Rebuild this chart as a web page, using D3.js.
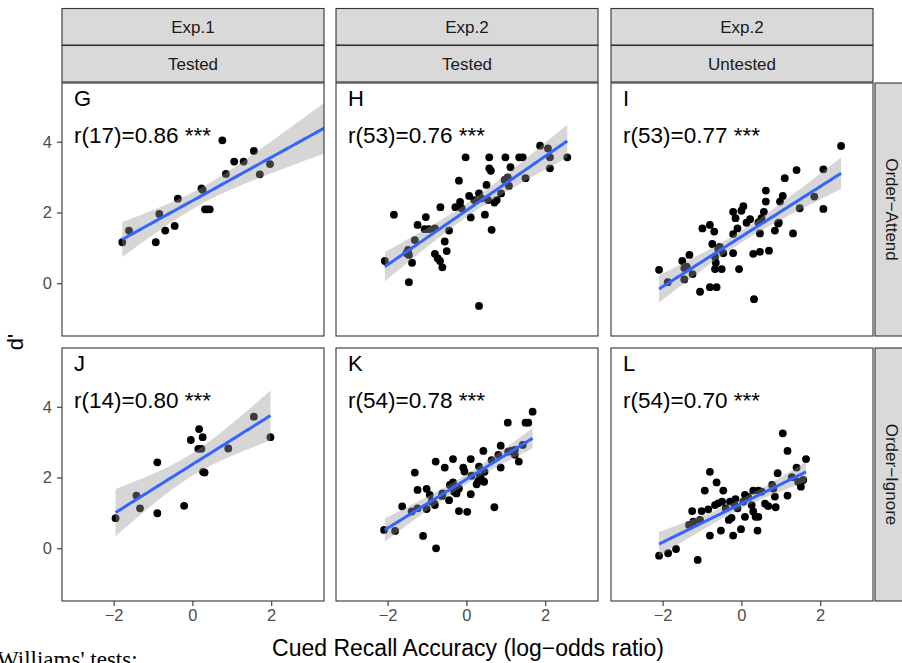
<!DOCTYPE html>
<html>
<head>
<meta charset="utf-8">
<script src="https://cdn.jsdelivr.net/npm/d3@7"></script>
<style>
  body { margin: 0; background: #fff; }
  svg { display: block; font-family: "Liberation Sans", Arial, sans-serif; }
</style>
</head>
<body>
<svg id="chart" width="902" height="663"></svg>
<script>
const colTop = ["Exp.1", "Exp.2", "Exp.2"];
const colSub = ["Tested", "Tested", "Untested"];
const rowNames = ["Order\u2212Attend", "Order\u2212Ignore"];
const panelLetters = ["G", "H", "I", "J", "K", "L"];
const panelStats = ["r(17)=0.86 ***", "r(53)=0.76 ***", "r(53)=0.77 ***",
                    "r(14)=0.80 ***", "r(54)=0.78 ***", "r(54)=0.70 ***"];
const xTicks = [-2, 0, 2];
const yTicks = [0, 2, 4];

// points, [x, y]
const ptsG = [[-1.78,1.16],[-1.61,1.49],[-0.93,1.16],[-0.84,1.96],[-0.69,1.49],[-0.45,1.62],
  [-0.37,2.39],[0.23,2.68],[0.26,2.64],[0.32,2.09],[0.44,2.09],[0.38,2.09],[0.76,4.04],
  [0.85,3.09],[1.06,3.44],[1.30,3.44],[1.56,3.74],[1.71,3.08],[1.97,3.37]];
const ptsH = [[-2.07,0.63],[-1.84,1.94],[-1.46,0.03],[-1.48,0.94],[-1.46,0.80],[-1.38,0.58],
  [-1.31,1.22],[-1.24,1.65],[-1.03,1.87],[-0.95,1.53],[-0.80,1.55],[-0.80,0.83],[-0.73,0.71],
  [-0.67,0.63],[-0.61,0.45],[-0.55,1.18],[-0.50,0.91],[-0.66,2.15],[-0.44,1.49],[-0.19,2.90],
  [-0.16,2.30],[-0.12,2.12],[-0.02,3.56],[0.07,2.47],[0.11,1.86],[0.32,-0.64],[0.32,2.54],
  [0.47,1.94],[0.51,2.78],[0.55,2.35],[0.58,3.56],[0.58,3.25],[0.62,3.18],[0.64,1.51],
  [0.71,2.28],[0.88,2.54],[0.99,3.56],[1.05,2.99],[1.12,3.28],[1.08,2.75],[1.34,3.56],
  [1.43,3.56],[1.50,2.97],[1.87,3.89],[2.12,3.56],[2.12,3.25],[2.56,3.56],[0.20,2.35],
  [0.77,2.35],[-1.06,1.53],[-0.28,2.15],[0.38,2.40],[0.97,2.92],[2.07,3.81],[-1.52,0.85]];
const ptsI = [[-2.09,0.38],[-1.87,0.03],[-1.50,0.63],[-1.45,0.11],[-1.39,0.47],[-1.32,0.80],
  [-1.24,0.26],[-1.05,-0.24],[-0.99,1.55],[-0.80,1.65],[-0.80,-0.11],[-0.63,-0.11],[-0.74,1.11],
  [-0.69,1.46],[-0.67,0.75],[-0.65,0.58],[-0.67,0.40],[-0.55,1.03],[-0.50,0.40],[-0.46,0.85],
  [-0.21,0.85],[-0.21,1.39],[-0.21,2.02],[-0.15,1.84],[-0.10,1.55],[-0.06,0.40],[0.05,2.18],
  [0.13,1.71],[0.22,1.81],[0.30,0.83],[0.32,-0.45],[0.47,0.89],[0.47,1.41],[0.51,1.84],
  [0.57,2.02],[0.62,2.31],[0.62,2.62],[0.70,0.92],[0.85,1.49],[0.95,1.71],[0.98,2.31],
  [1.05,2.47],[1.10,2.97],[1.31,1.41],[1.40,3.20],[1.48,2.12],[1.85,2.45],[2.08,3.22],
  [2.08,2.10],[2.53,3.88],[-1.45,0.43],[-0.59,0.97],[0.43,1.72],[0.93,1.69],[0.00,2.05]];
const ptsJ = [[-1.95,0.85],[-1.42,1.49],[-1.33,1.13],[-0.89,2.43],[-0.89,0.99],[-0.21,1.20],
  [-0.04,3.06],[0.17,3.37],[0.26,3.14],[0.15,2.81],[0.23,2.81],[0.27,2.16],[0.31,2.14],
  [0.91,2.82],[1.56,3.72],[1.98,3.14]];
const ptsK = [[-2.09,0.52],[-1.81,0.49],[-1.63,1.18],[-1.31,2.14],[-1.24,1.65],[-1.24,1.13],
  [-1.10,0.35],[-1.01,1.68],[-0.93,1.51],[-1.01,1.11],[-0.82,1.27],[-0.78,2.45],[-0.77,0.00],
  [-0.55,2.28],[-0.61,1.55],[-0.44,1.36],[-0.34,2.52],[-0.34,1.86],[-0.31,1.60],[-0.19,1.05],
  [-0.19,1.69],[-0.08,2.28],[0.02,1.03],[0.11,2.52],[0.11,1.53],[0.26,1.81],[0.32,2.31],
  [0.34,2.02],[0.43,2.75],[0.45,1.88],[0.46,2.16],[0.71,1.16],[0.87,2.90],[0.87,2.28],
  [0.81,2.64],[1.05,3.55],[1.13,2.75],[1.23,2.64],[1.33,2.45],[1.43,2.92],[1.50,3.55],
  [1.57,3.55],[1.68,3.86],[-0.62,1.48],[-0.42,1.79],[0.38,1.95],[1.06,2.73],[-1.39,1.04],
  [-0.88,1.32],[-0.25,1.55],[0.13,2.05],[0.64,2.49],[1.23,2.78],[-0.05,2.17],[-0.80,1.22],
  [0.30,1.90]];
const ptsL = [[-2.09,-0.21],[-1.86,-0.14],[-1.66,-0.02],[-1.33,0.66],[-1.25,1.05],[-1.11,-0.33],
  [-1.05,0.80],[-1.01,1.05],[-0.93,1.63],[-0.84,1.10],[-0.80,2.16],[-0.80,0.36],[-0.63,1.86],
  [-0.59,1.27],[-0.52,0.50],[-0.46,1.63],[-0.40,1.13],[-0.32,0.80],[-0.29,1.32],[-0.21,0.36],
  [-0.15,1.39],[-0.10,1.13],[-0.01,0.54],[0.09,0.89],[0.09,1.51],[0.26,1.22],[0.30,1.63],
  [0.36,0.89],[0.43,1.63],[0.43,0.89],[0.41,0.50],[0.68,1.19],[0.78,1.79],[0.85,1.46],
  [0.87,1.16],[0.92,2.12],[1.05,3.25],[1.17,2.75],[1.17,1.49],[1.40,2.28],[1.44,1.88],
  [1.51,1.74],[1.57,1.93],[1.64,2.52],[-1.22,0.75],[-0.67,1.22],[-0.49,1.32],[-0.17,1.22],
  [0.17,1.45],[0.51,1.60],[0.81,1.69],[1.28,2.01],[-0.25,0.86],[0.05,1.32],[0.30,1.04],
  [0.60,1.26]];
const panelPoints = [ptsG, ptsH, ptsI, ptsJ, ptsK, ptsL];
// fitted lines as drawn in the figure: [x0, y0, x1, y1]
const fitLines = [[-1.78, 1.24, 3.6, 4.54], [-2.07, 0.47, 2.56, 4.02], [-2.09, -0.16, 2.53, 3.11],
                  [-1.95, 1.01, 1.98, 3.75], [-2.07, 0.52, 1.68, 3.11], [-2.09, 0.12, 1.64, 2.16]];

const svg = d3.select("#chart");
const colX = [62, 336, 611];
const rowY = [83, 348];
const pw = 262, ph = 253;

const x = d3.scaleLinear().domain([-3.31, 3.34]).range([0, pw]);
const y = d3.scaleLinear().domain([-1.49, 5.66]).range([ph, 0]);

function tq(df) {
  const z = 1.959964;
  return z + (z ** 3 + z) / (4 * df) + (5 * z ** 5 + 16 * z ** 3 + 3 * z) / (96 * df * df);
}

// confidence band around the drawn line, spread taken from the points
function bandFor(pts, [x0, y0, x1, y1]) {
  const n = pts.length;
  const b = (y1 - y0) / (x1 - x0), a = y0 - b * x0;
  const mx = d3.mean(pts, d => d[0]);
  const sxx = d3.sum(pts, d => (d[0] - mx) ** 2);
  const s = Math.sqrt(d3.sum(pts, d => (d[1] - a - b * d[0]) ** 2) / (n - 2));
  const t = tq(n - 2);
  return d3.range(0, 81).map(k => {
    const xv = x0 + (x1 - x0) * k / 80;
    const fit = a + b * xv;
    const se = s * Math.sqrt(1 / n + (xv - mx) ** 2 / sxx);
    return { x: xv, fit, lo: fit - t * se, hi: fit + t * se };
  });
}

const defs = svg.append("defs");
defs.append("clipPath").attr("id", "pclip")
  .append("rect").attr("width", pw).attr("height", ph);

function styleAxis(ax) {
  ax.select(".domain").remove();
  ax.selectAll("line").attr("stroke", "#333").attr("stroke-width", 1.1);
  ax.selectAll("text").attr("font-size", 16.5).attr("fill", "#4d4d4d")
    .attr("font-family", "Liberation Sans, Arial, sans-serif");
}

panelPoints.forEach((pts, i) => {
  const r = Math.floor(i / 3), c = i % 3;
  const g = svg.append("g").attr("transform", `translate(${colX[c]},${rowY[r]})`);
  const inner = g.append("g").attr("clip-path", "url(#pclip)");

  inner.selectAll("circle").data(pts).enter().append("circle")
    .attr("cx", d => x(d[0])).attr("cy", d => y(d[1]))
    .attr("r", 3.9).attr("fill", "#000");

  const band = bandFor(pts, fitLines[i]);

  inner.append("path").datum(band)
    .attr("d", d3.area().x(d => x(d.x)).y0(d => y(d.lo)).y1(d => y(d.hi)))
    .attr("fill", "#999").attr("fill-opacity", 0.4);
  inner.append("path").datum(band)
    .attr("d", d3.line().x(d => x(d.x)).y(d => y(d.fit)))
    .attr("fill", "none").attr("stroke", "#3366FF").attr("stroke-width", 3);

  g.append("text").attr("x", 12).attr("y", 23)
    .attr("font-size", 22).text(panelLetters[i]);
  g.append("text").attr("x", 12).attr("y", 60)
    .attr("font-size", 22.5).text(panelStats[i]);

  g.append("rect").attr("width", pw).attr("height", ph)
    .attr("fill", "none").attr("stroke", "#333").attr("stroke-width", 1.1);

  if (c === 0) {
    styleAxis(g.append("g").call(d3.axisLeft(y).tickValues(yTicks).tickSize(5).tickPadding(5)));
  }
  if (r === 1) {
    styleAxis(g.append("g").attr("transform", `translate(0,${ph})`)
      .call(d3.axisBottom(x).tickValues(xTicks).tickSize(5).tickPadding(3)
        .tickFormat(d => d < 0 ? "\u2212" + Math.abs(d) : d)));
  }
});

// top strips
colX.forEach((cx, c) => {
  [[8.5, colTop[c]], [45.5, colSub[c]]].forEach(([sy, label]) => {
    svg.append("rect").attr("x", cx).attr("y", sy).attr("width", pw).attr("height", 36.5)
      .attr("fill", "#d9d9d9").attr("stroke", "#333").attr("stroke-width", 1.1);
    svg.append("text").attr("x", cx + pw / 2).attr("y", sy + 18.5)
      .attr("text-anchor", "middle").attr("dominant-baseline", "central")
      .attr("font-size", 17).attr("fill", "#1a1a1a").text(label);
  });
});

// right strips
rowY.forEach((ry, r) => {
  svg.append("rect").attr("x", 875).attr("y", ry).attr("width", 36).attr("height", ph)
    .attr("fill", "#d9d9d9").attr("stroke", "#333").attr("stroke-width", 1.1);
  svg.append("text")
    .attr("transform", `translate(891,${ry + ph / 2}) rotate(90)`)
    .attr("text-anchor", "middle").attr("dominant-baseline", "central")
    .attr("font-size", 17).attr("fill", "#1a1a1a").text(rowNames[r]);
});

// axis titles
svg.append("text").attr("x", 468).attr("y", 656).attr("text-anchor", "middle")
  .attr("font-size", 23).text("Cued Recall Accuracy (log\u2212odds ratio)");
svg.append("text").attr("transform", "translate(23,342) rotate(-90)")
  .attr("text-anchor", "middle").attr("font-size", 22).text("d'");

svg.append("text").attr("x", -3).attr("y", 667)
  .attr("font-family", "Liberation Serif, DejaVu Serif, serif")
  .attr("font-size", 23).text("Williams' tests:");
</script>
</body>
</html>
